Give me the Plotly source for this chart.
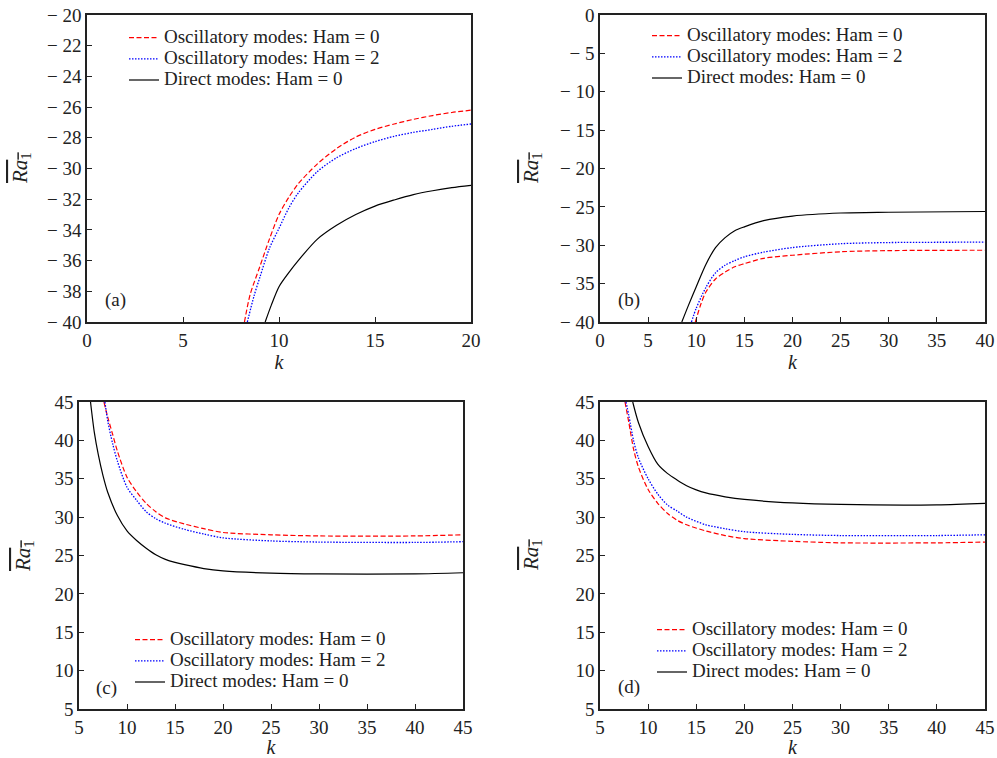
import plotly.graph_objects as go

# ---------------- data ----------------
# Panel (a)
a_red_k = [8.2, 8.5, 9, 9.5, 10, 10.5, 11, 12, 13, 14, 15, 16, 17, 18, 19, 20]
a_red_v = [-40, -38.2, -36.4, -34.6, -33.0, -31.9, -31.0, -29.7, -28.7, -27.95, -27.45, -27.1, -26.8, -26.55, -26.35, -26.2]
a_blue_k = [8.35, 8.7, 9, 9.5, 10, 10.5, 11, 12, 13, 14, 15, 16, 17, 18, 19, 20]
a_blue_v = [-40, -38.3, -37.1, -35.2, -33.9, -32.6, -31.6, -30.2, -29.3, -28.7, -28.25, -27.9, -27.65, -27.45, -27.25, -27.1]
a_black_k = [9.28, 9.6, 10, 10.5, 11, 12, 13, 14, 15, 16, 17, 18, 19, 20]
a_black_v = [-40, -38.9, -37.7, -36.8, -36.0, -34.6, -33.7, -33.0, -32.45, -32.05, -31.7, -31.45, -31.25, -31.1]

# Panel (b)
b_red_k = [9.9, 10.5, 11, 12, 13, 14, 15, 17, 20, 25, 30, 40]
b_red_v = [-40, -37.6, -36.1, -34.4, -33.5, -32.8, -32.4, -31.7, -31.3, -30.85, -30.7, -30.65]
b_blue_k = [9.5, 10, 11, 12, 13, 14, 15, 17, 20, 25, 30, 40]
b_blue_v = [-40, -38.2, -35.5, -33.6, -32.6, -32.0, -31.5, -30.9, -30.3, -29.8, -29.65, -29.6]
b_black_k = [8.5, 9.2, 10, 11, 12, 13, 14, 15, 17, 20, 25, 30, 40]
b_black_v = [-40, -37.8, -35.4, -32.5, -30.3, -29.0, -28.1, -27.6, -26.8, -26.2, -25.8, -25.7, -25.6]

# Panel (c)
c_red_k = [7.6, 8, 8.5, 9, 10, 11, 12, 13, 14, 16, 18, 20, 25, 30, 40, 45]
c_red_v = [45, 43, 40.8, 38.6, 35.2, 33.3, 31.8, 30.7, 29.9, 29.1, 28.5, 28.0, 27.7, 27.55, 27.55, 27.7]
c_blue_k = [7.7, 8, 8.5, 9, 10, 11, 12, 13, 14, 16, 18, 20, 25, 30, 40, 45]
c_blue_v = [45, 42.5, 39.6, 37.3, 33.9, 32.2, 30.7, 29.8, 29.2, 28.4, 27.8, 27.3, 26.9, 26.75, 26.7, 26.8]
c_black_k = [6.2, 6.6, 7, 7.5, 8, 9, 10, 11, 12, 13, 14, 15, 16, 18, 20, 25, 30, 40, 45]
c_black_v = [45, 41, 38.2, 35.4, 33.2, 30.2, 28.2, 26.95, 25.95, 25.1, 24.5, 24.1, 23.8, 23.3, 23.0, 22.7, 22.6, 22.6, 22.75]

# Panel (d)
d_red_k = [7.6, 8, 8.5, 9, 10, 11, 12, 13, 14, 16, 18, 20, 25, 30, 40, 45]
d_red_v = [45, 42.3, 38.8, 36.5, 33.6, 31.8, 30.5, 29.6, 29.0, 28.2, 27.6, 27.2, 26.85, 26.65, 26.65, 26.75]
d_blue_k = [7.7, 8, 8.5, 9, 10, 11, 12, 13, 14, 16, 18, 20, 25, 30, 40, 45]
d_blue_v = [45, 43.2, 39.9, 37.7, 35.0, 33.0, 31.6, 30.8, 30.0, 29.0, 28.5, 28.1, 27.75, 27.6, 27.6, 27.7]
d_black_k = [8.4, 9, 10, 11, 12, 13, 14, 15, 16, 18, 20, 25, 30, 40, 45]
d_black_v = [45, 42.3, 39.2, 36.9, 35.7, 34.85, 34.1, 33.55, 33.15, 32.65, 32.3, 31.85, 31.65, 31.6, 31.8]

series_names = ["Oscillatory modes: Ham = 0", "Oscillatory modes: Ham = 2", "Direct modes: Ham = 0"]
panel_labels = ["(a)", "(b)", "(c)", "(d)"]

# tick values / labels
a_xticks = [0, 5, 10, 15, 20]
a_yticks = [-40, -38, -36, -34, -32, -30, -28, -26, -24, -22, -20]
b_xticks = [0, 5, 10, 15, 20, 25, 30, 35, 40]
b_yticks = [-40, -35, -30, -25, -20, -15, -10, -5, 0]
cd_xticks = [5, 10, 15, 20, 25, 30, 35, 40, 45]
cd_yticks = [5, 10, 15, 20, 25, 30, 35, 40, 45]

FONT = "Liberation Serif"
W, H = 997, 758
TXT = "#222"


def fmt(v):
    return ("\u2212 " + str(abs(v))) if v < 0 else str(v)


panels = [
    [(a_red_k, a_red_v), (a_blue_k, a_blue_v), (a_black_k, a_black_v)],
    [(b_red_k, b_red_v), (b_blue_k, b_blue_v), (b_black_k, b_black_v)],
    [(c_red_k, c_red_v), (c_blue_k, c_blue_v), (c_black_k, c_black_v)],
    [(d_red_k, d_red_v), (d_blue_k, d_blue_v), (d_black_k, d_black_v)],
]
styles = [dict(color="#ff0000", dash="5px,2.5px", width=1.2, shape="spline", smoothing=0.8),
          dict(color="#0000ff", dash="1.5px,1.5px", width=1.3, shape="spline", smoothing=0.8),
          dict(color="#000000", dash="solid", width=1.2, shape="spline", smoothing=0.8)]

fig = go.Figure()
legend_ids = ["legend", "legend2", "legend3", "legend4"]
for p, series in enumerate(panels):
    ax = "" if p == 0 else str(p + 1)
    for s, (kx, vy) in enumerate(series):
        fig.add_trace(go.Scatter(
            x=kx, y=vy, mode="lines",
            name='<span style="font-size:19px">' + series_names[s] + '</span>',
            line=styles[s], xaxis="x" + ax, yaxis="y" + ax,
            legend=legend_ids[p], showlegend=True))


def px2x(px):
    return px / W


def px2y(py):
    return 1 - py / H


# plot areas in pixels: (x0, x1, y0top, y1bottom)
areas = [(87, 471, 15, 322), (600, 985, 15, 322), (79, 463, 402, 709), (600, 985, 402, 709)]
xranges = [[0, 20], [0, 40], [5, 45], [5, 45]]
yranges = [[-40, -20], [-40, 0], [5, 45], [5, 45]]
xticks = [a_xticks, b_xticks, cd_xticks, cd_xticks]
yticks = [a_yticks, b_yticks, cd_yticks, cd_yticks]
xstandoff = [4, 4, 5, 5]

ytitle = '<span style="text-decoration:overline"><i>Ra</i><sub>1</sub></span>'

layout = dict(width=W, height=H, margin=dict(l=0, r=0, t=0, b=0, autoexpand=False),
              paper_bgcolor="white", plot_bgcolor="white",
              font=dict(family=FONT, size=19, color=TXT))

for p in range(4):
    ax = "" if p == 0 else str(p + 1)
    x0, x1, y0, y1 = areas[p]
    common = dict(showline=True, linecolor=TXT, linewidth=1.5, mirror=True,
                  ticks="inside", ticklen=5, tickcolor=TXT, tickwidth=1.2,
                  showgrid=False, zeroline=False, automargin=False,
                  tickfont=dict(family=FONT, size=19, color=TXT))
    layout["xaxis" + ax] = dict(domain=[px2x(x0), px2x(x1)], range=xranges[p],
                                tickmode="array", tickvals=xticks[p],
                                ticktext=[fmt(v) for v in xticks[p]],
                                anchor="y" + ax,
                                title=dict(text="<i>k</i>", standoff=xstandoff[p],
                                           font=dict(family=FONT, size=20)),
                                **common)
    layout["yaxis" + ax] = dict(domain=[px2y(y1), px2y(y0)], range=yranges[p],
                                tickmode="array", tickvals=yticks[p],
                                ticktext=[fmt(v) for v in yticks[p]],
                                anchor="x" + ax,
                                **common)

leg_pos = [(124, 22), (647, 20), (130, 624), (652, 614)]
for p in range(4):
    lx, ly = leg_pos[p]
    layout[legend_ids[p]] = dict(x=px2x(lx), y=px2y(ly), xanchor="left", yanchor="top",
                                 bgcolor="rgba(0,0,0,0)", borderwidth=0,
                                 font=dict(family=FONT, size=14, color=TXT),
                                 tracegroupgap=0, itemwidth=30)

fig.update_layout(**layout)

label_pos = [(115, 300), (629, 300), (106, 688), (629, 687)]
for p in range(4):
    lx, ly = label_pos[p]
    fig.add_annotation(x=px2x(lx), y=px2y(ly), xref="paper", yref="paper",
                       xanchor="center", yanchor="middle",
                       text=panel_labels[p], showarrow=False,
                       font=dict(family=FONT, size=19, color=TXT))

ytitle_pos = [(21, 168), (532, 168), (24, 556), (532, 555)]
for p in range(4):
    tx, ty = ytitle_pos[p]
    fig.add_annotation(x=px2x(tx), y=px2y(ty), xref="paper", yref="paper",
                       xanchor="center", yanchor="middle", textangle=-90,
                       text=ytitle, showarrow=False,
                       font=dict(family=FONT, size=21, color=TXT))

fig.write_html("out.html", config={"displayModeBar": False},
               post_script="document.body.style.margin='0px';")
